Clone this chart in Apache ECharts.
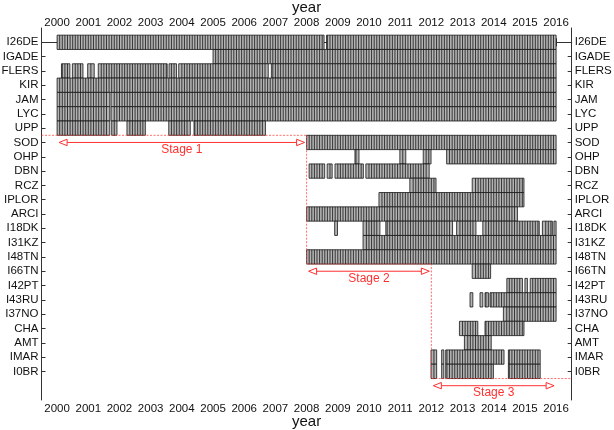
<!DOCTYPE html>
<html><head><meta charset="utf-8">
<script src="https://cdn.jsdelivr.net/npm/echarts@6/dist/echarts.min.js"></script>
<style>html,body{margin:0;padding:0;background:#fff}#c{width:614px;height:430px}</style>
</head><body><div id="c"></div>
<script>
// Station names, top to bottom
const stations = ['I26DE','IGADE','FLERS','KIR','JAM','LYC','UPP','SOD','OHP','DBN','RCZ','IPLOR','ARCI','I18DK','I31KZ','I48TN','I66TN','I42PT','I43RU','I37NO','CHA','AMT','IMAR','I0BR'];
const yearTicks = [2000,2001,2002,2003,2004,2005,2006,2007,2008,2009,2010,2011,2012,2013,2014,2015,2016];

// Data periods per station: [start, end] in decimal years
const I26DE = [[2000.0, 2008.56], [2008.64, 2016.0]];
const IGADE = [[2005.0, 2016.0]];
const FLERS = [[2000.14, 2000.41], [2000.49, 2000.83], [2000.98, 2001.19], [2001.32, 2003.53], [2003.59, 2003.83], [2003.90, 2006.77], [2006.87, 2016.0]];
const KIR = [[2000.0, 2016.0]];
const JAM = [[2000.0, 2001.69], [2001.73, 2016.0]];
const LYC = [[2000.0, 2001.69], [2001.73, 2016.0]];
const UPP = [[2000.0, 2001.69], [2001.75, 2001.92], [2002.24, 2002.83], [2003.58, 2004.27], [2004.39, 2006.68]];
const SOD = [[2008.0, 2016.0]];
const OHP = [[2009.55, 2009.68], [2010.99, 2011.18], [2011.74, 2011.99], [2012.49, 2016.0]];
const DBN = [[2008.08, 2008.58], [2008.66, 2008.82], [2008.91, 2009.82], [2009.9, 2011.93]];
const RCZ = [[2011.31, 2012.15], [2013.31, 2014.97]];
const IPLOR = [[2010.32, 2014.97]];
const ARCI = [[2008.0, 2014.76]];
const I18DK = [[2008.9, 2008.99], [2009.81, 2010.35], [2010.54, 2012.68], [2012.81, 2013.43], [2013.65, 2015.46], [2015.56, 2015.88], [2015.93, 2016.0]];
const I31KZ = [[2009.81, 2016.0]];
const I48TN = [[2008.0, 2016.0]];
const I66TN = [[2013.31, 2013.9]];
const I42PT = [[2014.42, 2014.92], [2015.0, 2015.08], [2015.17, 2016.0]];
const I43RU = [[2013.24, 2013.33], [2013.56, 2013.65], [2013.72, 2013.83], [2013.88, 2016.0]];
const I37NO = [[2014.31, 2016.0]];
const CHA = [[2012.9, 2013.49], [2013.72, 2014.97]];
const AMT = [[2013.06, 2013.92]];
const IMAR = [[2011.99, 2012.17], [2012.33, 2012.4], [2012.46, 2014.33], [2014.47, 2015.49]];
const I0BR = [[2011.99, 2012.17], [2012.33, 2012.4], [2012.46, 2013.99], [2014.47, 2015.49]];

// Stage annotations
const stageNames = ['Stage 1', 'Stage 2', 'Stage 3'];
const stageStart = [2000, 2008, 2012];
const stageEnd = [2008, 2012, 2016];
const stageRow = [7, 16, 24];
// Staircase boundary (dotted red) between stages
const boundaryX = [1999.5, 2008, 2008, 2012, 2012, 2016.5];
const boundaryY = [6.5, 6.5, 15.5, 15.5, 23.5, 23.5];

const periods = {I26DE, IGADE, FLERS, KIR, JAM, LYC, UPP, SOD, OHP, DBN, RCZ, IPLOR, ARCI, I18DK, I31KZ, I48TN, I66TN, I42PT, I43RU, I37NO, CHA, AMT, IMAR, I0BR};
const barData = [];
stations.forEach((s, i) => (periods[s] || []).forEach(p => barData.push([p[0], p[1], i])));
const stageData = stageNames.map((n, i) => [stageStart[i], stageEnd[i], stageRow[i], n]);
const boundaryData = boundaryX.map((x, i) => [x, boundaryY[i]]);

const FONT = 'Liberation Sans, Arial, sans-serif';
const RED = '#ff3030';
const chart = echarts.init(document.getElementById('c'), null, {renderer: 'canvas'});

function renderBar(params, api) {
  const s = api.value(0), e = api.value(1), r = api.value(2);
  const p0 = api.coord([s, r]);
  const p1 = api.coord([e, r]);
  const h = api.size([0, 1])[1];
  const y0 = p0[1] - h / 2;
  const children = [{
    type: 'rect',
    shape: {x: p0[0], y: y0, width: p1[0] - p0[0], height: h},
    style: {fill: '#b4b4b4', stroke: '#151515', lineWidth: 0.8}
  }];
  // monthly cell dividers
  const m0 = Math.ceil(s * 12 + 0.3), m1 = Math.floor(e * 12 - 0.3);
  for (let m = m0; m <= m1; m++) {
    const x = api.coord([m / 12, r])[0];
    children.push({type: 'line', shape: {x1: x, y1: y0, x2: x, y2: y0 + h}, style: {stroke: '#151515', lineWidth: 0.8}});
  }
  return {type: 'group', children};
}

function renderStage(params, api) {
  const s = api.value(0), e = api.value(1), r = api.value(2);
  const name = stageNames[params.dataIndex];
  const p0 = api.coord([s, r]);
  const p1 = api.coord([e, r]);
  const h = api.size([0, 1])[1];
  const L = 8, W = 3.2, inset = 2;
  const xl = p0[0] + inset, xr = p1[0] - inset, y = p0[1];
  return {type: 'group', children: [
    {type: 'line', shape: {x1: xl + L, y1: y, x2: xr - L, y2: y}, style: {stroke: RED, lineWidth: 1}},
    {type: 'polygon', shape: {points: [[xl, y], [xl + L, y - W], [xl + L, y + W]]}, style: {fill: '#fff', stroke: RED, lineWidth: 1}},
    {type: 'polygon', shape: {points: [[xr, y], [xr - L, y - W], [xr - L, y + W]]}, style: {fill: '#fff', stroke: RED, lineWidth: 1}},
    {type: 'text', x: (p0[0] + p1[0]) / 2, y: y + h * 0.5, style: {text: name, fill: RED, font: '12px ' + FONT, align: 'center', verticalAlign: 'middle'}}
  ]};
}

const xCommon = {
  type: 'value', min: 1999.5, max: 2016.5,
  name: 'year', nameLocation: 'middle', nameMoveOverlap: false,
  nameTextStyle: {fontFamily: FONT, fontSize: 15, color: '#111'},
  axisLine: {show: true, lineStyle: {color: '#333', width: 1}},
  axisTick: {show: true, inside: true, length: 4, customValues: yearTicks, lineStyle: {color: '#333'}},
  axisLabel: {show: true, customValues: yearTicks, fontFamily: FONT, fontSize: 11.5, color: '#111', formatter: v => String(v)},
  splitLine: {show: false}
};
const yCommon = {
  type: 'value', min: -1, max: 25, inverse: true,
  axisLine: {show: true, lineStyle: {color: '#333', width: 1}},
  axisTick: {show: true, inside: true, length: 4, customValues: stations.map((s, i) => i), lineStyle: {color: '#333'}},
  axisLabel: {show: true, customValues: stations.map((s, i) => i), fontFamily: FONT, fontSize: 11.5, color: '#111', margin: 3, formatter: v => stations[Math.round(v)] || ''},
  splitLine: {show: false}
};

chart.setOption({
  animation: false,
  backgroundColor: '#fff',
  grid: {left: 41.5, right: 42.3, top: 28, bottom: 30, containLabel: false, outerBoundsMode: 'none'},
  xAxis: [
    Object.assign({}, xCommon, {position: 'bottom', nameGap: 14, axisLabel: Object.assign({}, xCommon.axisLabel, {margin: 3})}),
    Object.assign({}, xCommon, {position: 'top', nameGap: 13, axisLabel: Object.assign({}, xCommon.axisLabel, {margin: -1})})
  ],
  yAxis: [
    Object.assign({}, yCommon, {position: 'left'}),
    Object.assign({}, yCommon, {position: 'right'})
  ],
  series: [
    {type: 'custom', name: 'availability', xAxisIndex: 0, yAxisIndex: 0, renderItem: renderBar, encode: {x: [0, 1], y: 2}, data: barData, clip: true, silent: true},
    {type: 'line', name: 'boundary', xAxisIndex: 0, yAxisIndex: 0, data: boundaryData, symbol: 'none', lineStyle: {color: 'rgba(255,60,60,0.75)', width: 1, type: [2, 1.5]}, silent: true, z: 5},
    {type: 'custom', name: 'stages', xAxisIndex: 0, yAxisIndex: 0, renderItem: renderStage, encode: {x: [0, 1], y: 2}, data: stageData, silent: true, z: 6}
  ]
});
</script></body></html>
